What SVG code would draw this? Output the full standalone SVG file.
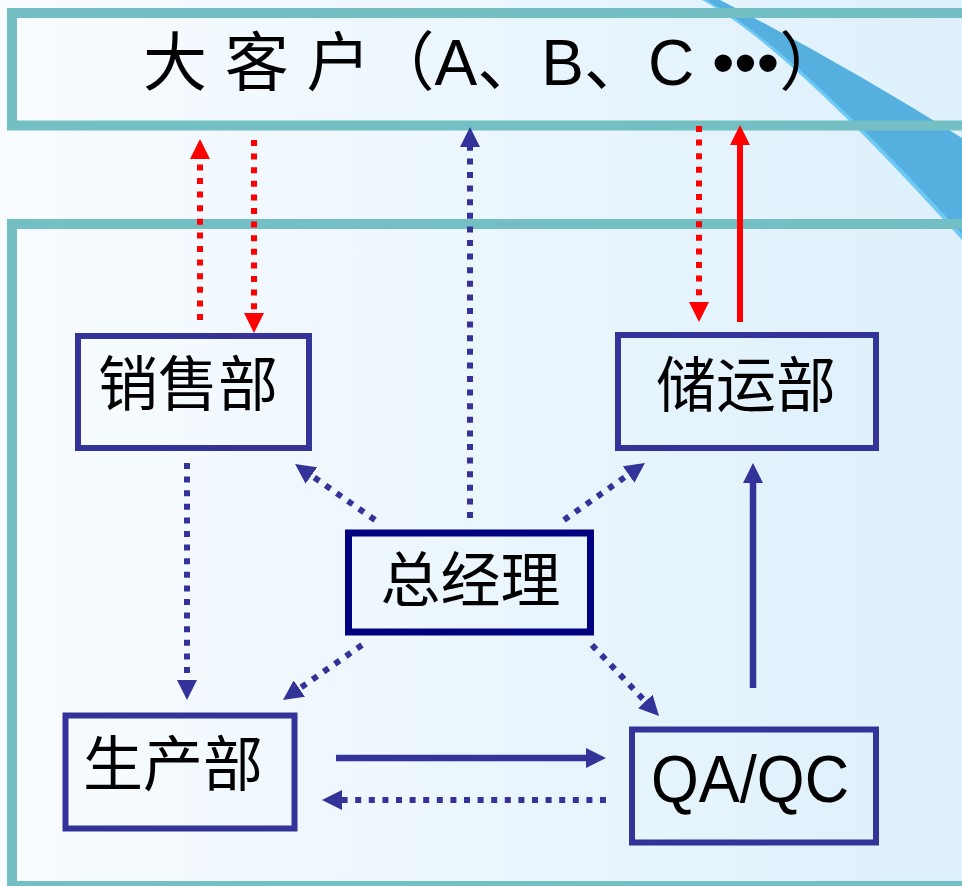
<svg xmlns="http://www.w3.org/2000/svg" width="962" height="886" viewBox="0 0 962 886">
  <defs>
    <linearGradient id="bg" x1="0" y1="0" x2="1" y2="0">
      <stop offset="0" stop-color="#f9fcff"/>
      <stop offset="1" stop-color="#ddf0fb"/>
    </linearGradient>
    <marker id="ahBlue" viewBox="0 0 20 20" markerUnits="userSpaceOnUse" markerWidth="20" markerHeight="20" refX="0" refY="10" orient="auto">
      <path d="M0,0 L20,10 L0,20 z" fill="#333399"/>
    </marker>
    <marker id="ahRed" viewBox="0 0 20 20" markerUnits="userSpaceOnUse" markerWidth="20" markerHeight="20" refX="0" refY="10" orient="auto">
      <path d="M0,0 L20,10 L0,20 z" fill="#ff0000"/>
    </marker>
    <style>
      .frame { fill: none; stroke: #74bfc3; stroke-width: 10; }
      .node { fill: none; stroke: #333399; stroke-width: 6; }
      .boss { fill: none; stroke: #000080; stroke-width: 7; }
      .cjk { font-family: "Noto Sans CJK SC", sans-serif; font-size: 60px; fill: #000; text-anchor: middle; }
      .lat { font-family: "Liberation Sans", Arial, sans-serif; fill: #000; }
      .title { font-family: "Liberation Sans", "Noto Sans CJK SC", sans-serif; font-size: 64px; fill: #000; }
      .blue { stroke: #333399; fill: none; stroke-width: 6.5; }
      .red { stroke: #ff0000; fill: none; stroke-width: 6; }
      .dot { stroke-dasharray: 6 7.6; stroke-width: 6; }
      .mb { marker-end: url(#ahBlue); }
      .mr { marker-end: url(#ahRed); }
    </style>
  </defs>

  <rect x="0" y="0" width="962" height="886" fill="url(#bg)"/>

  <g id="decor">
    <path d="M702,0 Q788,47 962,240 L962,146 Q840,66 718,0 Z" fill="#6fc9f5"/>
    <path d="M706,0 Q790,45 962,234 L962,138 Q840,62 720,0 Z" fill="#55b0e0"/>
  </g>

  <g id="frames">
    <rect class="frame" x="12" y="13" width="1000" height="112.5"/>
    <rect class="frame" x="12" y="224" width="1000" height="662"/>
  </g>

  <g id="customers">
    <text class="title" x="143" y="85">大 客 户（A、B、C •••）</text>
  </g>

  <g id="sales">
    <rect class="node" x="78" y="336" width="231" height="112"/>
    <text class="cjk" x="188" y="406">销售部</text>
  </g>

  <g id="logistics">
    <rect class="node" x="618" y="335" width="258" height="113"/>
    <text class="cjk" x="746" y="407">储运部</text>
  </g>

  <g id="gm">
    <rect class="boss" x="348.5" y="533" width="242" height="99"/>
    <text class="cjk" x="470.5" y="602">总经理</text>
  </g>

  <g id="production">
    <rect class="node" x="65.5" y="715.5" width="229" height="113"/>
    <text class="cjk" x="173" y="786">生产部</text>
  </g>

  <g id="qaqc">
    <rect class="node" x="632" y="729.5" width="244" height="113"/>
    <text class="lat" x="750" y="802" font-size="67" text-anchor="middle" textLength="198" lengthAdjust="spacingAndGlyphs">QA/QC</text>
  </g>

  <g id="connectors">
    <line class="red dot mr" x1="200" y1="320" x2="200" y2="159"/>
    <line class="red dot mr" x1="254" y1="140" x2="254" y2="313"/>
    <line class="blue dot mb" x1="470" y1="518" x2="470" y2="147"/>
    <line class="red dot mr" x1="699" y1="126" x2="699" y2="302"/>
    <line class="red mr" x1="740" y1="322" x2="740" y2="145"/>
    <line class="blue mb" x1="753" y1="688" x2="753" y2="483"/>
    <line class="blue dot mb" x1="187" y1="463" x2="187" y2="680"/>
    <line class="blue dot mb" x1="375" y1="520" x2="311.4" y2="475.5"/>
    <line class="blue dot mb" x1="564" y1="520" x2="628.6" y2="474.5"/>
    <line class="blue dot mb" x1="362" y1="645" x2="299.4" y2="688.6"/>
    <line class="blue dot mb" x1="592" y1="645" x2="645.3" y2="701.5"/>
    <line class="blue mb" x1="336" y1="758" x2="586" y2="758"/>
    <line class="blue dot mb" x1="606" y1="800" x2="342" y2="800"/>
  </g>
</svg>
